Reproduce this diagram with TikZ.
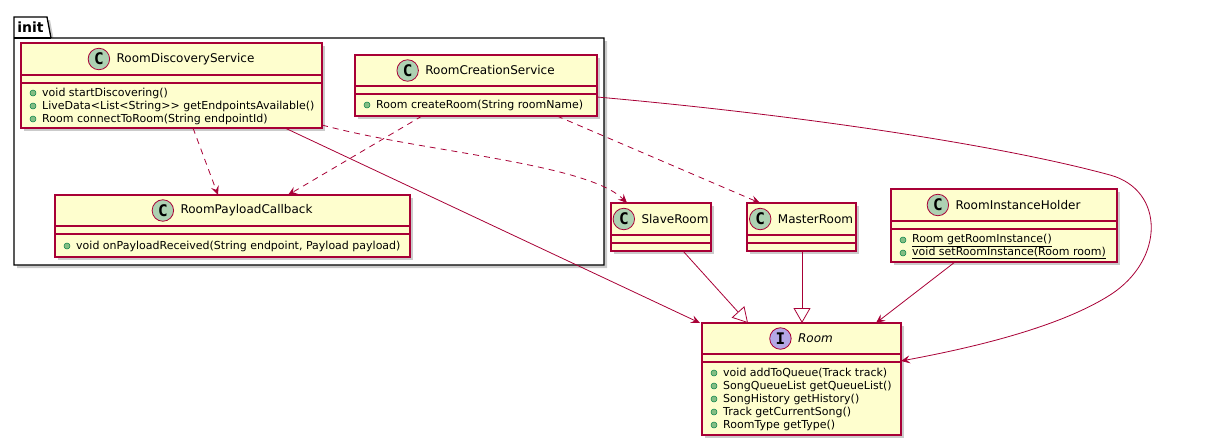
\documentclass[tikz,border=0pt]{standalone}
\usepackage{fontspec}
\setmainfont{DejaVu Sans}
\newfontfamily\spotfont{DejaVu Sans Mono}
\usetikzlibrary{arrows.meta,shadows}
\definecolor{clsfill}{HTML}{FEFECE}
\definecolor{clsborder}{HTML}{A80036}
\definecolor{spotC}{HTML}{ADD1B2}
\definecolor{spotI}{HTML}{B4A7E5}
\definecolor{bulletfill}{HTML}{84BE84}
\definecolor{bulletdraw}{HTML}{038048}
\tikzset{
  myshadow/.style={drop shadow={shadow xshift=3pt, shadow yshift=-3pt, fill=black!45, opacity=0.45}},
  clsbox/.style={draw=clsborder, fill=clsfill, line width=1.1pt, inner sep=0pt, outer sep=0pt, myshadow},
  sepline/.style={draw=clsborder, line width=1.1pt},
  titletext/.style={inner sep=0pt, font=\fontsize{12}{14}\selectfont},
  spot/.style={circle, draw=clsborder, line width=0.8pt, minimum size=21.5pt, inner sep=0pt, font=\spotfont\bfseries\fontsize{16}{16}\selectfont},
  bullet/.style={circle, draw=bulletdraw, fill=bulletfill, minimum size=6pt, inner sep=0pt, line width=0.5pt},
  meth/.style={inner sep=0pt, anchor=west, font=\fontsize{11}{13}\selectfont},
  pkg/.style={draw=black, line width=1.3pt},
  dep/.style={draw=clsborder, line width=0.8pt, dash pattern=on 6pt off 5pt, -{Stealth[length=9pt,width=8pt,inset=3.5pt]}},
  assoc/.style={draw=clsborder, line width=0.8pt, -{Stealth[length=9pt,width=8pt,inset=3.5pt]}},
  gen/.style={draw=clsborder, line width=0.8pt, -{Triangle[open, length=15pt, width=17pt, fill=white]}}
}
% #1 id, #2 x1, #3 y1, #4 x2, #5 y2, #6 separator y, #7 letter, #8 spot colour, #9 title
\newcommand{\umlclass}[9]{%
  \node[clsbox, minimum width={#4-#2}, minimum height={#5-#3}] (#1) at ({(#2+#4)/2},{(#3+#5)/2}) {};
  \draw[sepline] (#2,#6) -- (#4,#6) (#2,{#6+8}) -- (#4,{#6+8});
  \node[titletext] (#1-t) at ({(#2+#4)/2+14},{(#3+#6)/2}) {#9};
  \node[spot, fill=#8] (#1-s) at ([xshift=-17.5pt]#1-t.west) {#7};
}
% #1 id, #2 x1, #3 y, #4 text
\newcommand{\umlmethod}[4]{%
  \node[bullet] (#1-b#3) at ({#2+12},#3) {};
  \node[meth] (#1-m#3) at ({#2+21},#3) {#4};
}
\begin{document}
\begin{tikzpicture}[x=1pt,y=-1pt]
\useasboundingbox (0,0) rectangle (1220,445);
% package
\path[pkg, fill=white, myshadow] (14,265) -- (14,17) -- (47,17) -- (51,38) -- (604,38) -- (604,265) -- cycle;
\draw[pkg] (14,38) -- (51,38);
\node[inner sep=0pt, font=\bfseries\fontsize{14}{16}\selectfont] (pkglabel) at (30.5,27.5) {init};
% classes
\umlclass{rds}{21}{43}{322}{128}{75}{C}{spotC}{RoomDiscoveryService}
\umlmethod{rds}{21}{93}{void startDiscovering()}
\umlmethod{rds}{21}{106}{LiveData<List<String>{}> getEndpointsAvailable()}
\umlmethod{rds}{21}{119}{Room connectToRoom(String endpointId)}
\umlclass{rcs}{355}{55}{597}{116}{86}{C}{spotC}{RoomCreationService}
\umlmethod{rcs}{355}{105}{Room createRoom(String roomName)}
\umlclass{rpc}{55}{195}{410}{257}{226}{C}{spotC}{RoomPayloadCallback}
\umlmethod{rpc}{55}{246}{void onPayloadReceived(String endpoint, Payload payload)}
\umlclass{slave}{611}{203}{711}{251}{235}{C}{spotC}{SlaveRoom}
\umlclass{master}{747}{203}{856}{251}{235}{C}{spotC}{MasterRoom}
\umlclass{rih}{891}{189}{1117}{262}{221}{C}{spotC}{RoomInstanceHolder}
\umlmethod{rih}{891}{240}{\underline{Room getRoomInstance()}}
\umlmethod{rih}{891}{253}{\underline{void setRoomInstance(Room room)}}
\umlclass{room}{702}{323}{901}{435}{354}{I}{spotI}{\itshape Room}
\umlmethod{room}{702}{373}{void addToQueue(Track track)}
\umlmethod{room}{702}{386}{SongQueueList getQueueList()}
\umlmethod{room}{702}{399}{SongHistory getHistory()}
\umlmethod{room}{702}{412}{Track getCurrentSong()}
\umlmethod{room}{702}{425}{RoomType getType()}
% connectors
\draw[dep] ([xshift=172pt]rds.south west) -- ([xshift=163pt]rpc.north west);
\draw[dep] ([xshift=67pt]rcs.south west) -- ([xshift=233pt]rpc.north west);
\draw[dep] ([yshift=3pt]rds.south east) .. controls (422,152) and (587,163) .. ([xshift=16pt]slave.north west);
\draw[dep] ([xshift=202pt]rcs.south west) -- ([xshift=13pt]master.north west);
\draw[assoc] ([xshift=264pt]rds.south west) -- ([xshift=-2pt]room.north west);
\draw[assoc] ([yshift=19pt]rcs.south east) .. controls (800,115) and (1000,145) .. (1110,175)
  .. controls (1165,190) and (1165,260) .. (1110,295)
  .. controls (1055,330) and (960,350) .. ([yshift=-38pt]room.north east);
\draw[gen] ([xshift=72pt]slave.south west) -- ([xshift=46pt]room.north west);
\draw[gen] ([xshift=55pt]master.south west) -- ([xshift=100pt]room.north west);
\draw[assoc] ([xshift=64pt]rih.south west) -- ([xshift=-25pt]room.north east);
\end{tikzpicture}
\end{document}
